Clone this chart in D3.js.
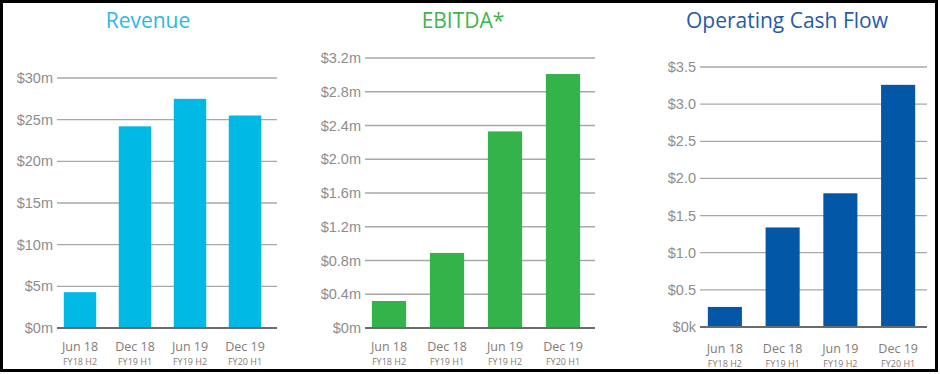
<!DOCTYPE html>
<html>
<head>
<meta charset="utf-8">
<script src="https://cdn.jsdelivr.net/npm/d3@7"></script>
<style>
  html, body { margin: 0; padding: 0; background: #fff; }
  svg { display: block; }
</style>
</head>
<body>
<svg id="chart" width="940" height="374"></svg>
<script>
// data
const categories = ["Jun 18", "Dec 18", "Jun 19", "Dec 19"];
const subLabels = ["FY18 H2", "FY19 H1", "FY19 H2", "FY20 H1"];

const revenue = [4.3, 24.2, 27.5, 25.5];          // $m
const ebitda = [0.32, 0.89, 2.33, 3.01];          // $m
const cashFlow = [0.27, 1.34, 1.80, 3.26];        // $m

const revenueTicks = [0, 5, 10, 15, 20, 25, 30];
const ebitdaTicks = [0, 0.4, 0.8, 1.2, 1.6, 2.0, 2.4, 2.8, 3.2];
const cashTicks = [0, 0.5, 1.0, 1.5, 2.0, 2.5, 3.0, 3.5];

const svg = d3.select("#chart");

// panel layout
const panels = [
  {
    title: "Revenue", titleColor: "#2bb8e6", barColor: "#00b9e5",
    values: revenue, ticks: revenueTicks, max: 30,
    fmt: d => "$" + d + "m",
    titleX: 148, gridX0: 57, gridX1: 277, bandX0: 52.5, bandX1: 272.5,
    yTop: 78, yZero: 328, labelY: 351
  },
  {
    title: "EBITDA*", titleColor: "#3db54b", barColor: "#33b34a",
    values: ebitda, ticks: ebitdaTicks, max: 3.2,
    fmt: d => d === 0 ? "$0m" : "$" + d.toFixed(1) + "m",
    titleX: 463, gridX0: 365, gridX1: 595, bandX0: 360, bandX1: 592,
    yTop: 58, yZero: 328, labelY: 351
  },
  {
    title: "Operating Cash Flow", titleColor: "#1f5ca8", barColor: "#0257a7",
    values: cashFlow, ticks: cashTicks, max: 3.5,
    fmt: d => d === 0 ? "$0k" : "$" + d.toFixed(1),
    titleX: 787, gridX0: 700, gridX1: 927, bandX0: 696, bandX1: 927,
    yTop: 67, yZero: 327, labelY: 353
  }
];

panels.forEach(p => {
  const g = svg.append("g");

  const y = d3.scaleLinear().domain([0, p.max]).range([p.yZero, p.yTop]);
  const x = d3.scaleBand()
    .domain(categories)
    .range([p.bandX0, p.bandX1])
    .paddingInner(0.41)
    .paddingOuter(0.205);

  // title
  g.append("text")
    .attr("x", p.titleX)
    .attr("y", 28)
    .attr("text-anchor", "middle")
    .attr("font-family", "Open Sans, sans-serif")
    .attr("font-size", "21px")
    .attr("fill", p.titleColor)
    .text(p.title);

  // gridlines
  g.selectAll(".grid")
    .data(p.ticks.filter(t => t > 0))
    .join("line")
    .attr("x1", p.gridX0)
    .attr("x2", p.gridX1)
    .attr("y1", d => y(d))
    .attr("y2", d => y(d))
    .attr("stroke", "#a8a8a8")
    .attr("stroke-width", 1.3);

  // tick labels
  g.selectAll(".tick-label")
    .data(p.ticks)
    .join("text")
    .attr("x", p.gridX0 - 4)
    .attr("y", d => y(d) + 5)
    .attr("text-anchor", "end")
    .attr("font-family", "Liberation Sans, Arial, sans-serif")
    .attr("font-size", "14.5px")
    .attr("fill", "#8d8d8d")
    .text(p.fmt);

  // bars
  g.selectAll(".bar")
    .data(p.values)
    .join("rect")
    .attr("x", (d, i) => x(categories[i]))
    .attr("y", d => y(d))
    .attr("width", x.bandwidth())
    .attr("height", d => y(0) - y(d))
    .attr("fill", p.barColor);

  // zero line
  g.append("line")
    .attr("x1", p.gridX0)
    .attr("x2", p.gridX1)
    .attr("y1", y(0))
    .attr("y2", y(0))
    .attr("stroke", "#6b6b6b")
    .attr("stroke-width", 2);

  // category labels
  categories.forEach((c, i) => {
    const cx = x(c) + x.bandwidth() / 2;
    g.append("text")
      .attr("x", cx)
      .attr("y", p.labelY)
      .attr("text-anchor", "middle")
      .attr("font-family", "Open Sans, sans-serif")
      .attr("font-size", "12.5px")
      .attr("fill", "#857a76")
      .text(c);
    g.append("text")
      .attr("x", cx)
      .attr("y", p.labelY + 14)
      .attr("text-anchor", "middle")
      .attr("font-family", "Open Sans, sans-serif")
      .attr("font-size", "9px")
      .attr("fill", "#857a76")
      .text(subLabels[i]);
  });
});

// outer frame
svg.append("rect")
  .attr("x", 1.5)
  .attr("y", 1.5)
  .attr("width", 935)
  .attr("height", 369)
  .attr("fill", "none")
  .attr("stroke", "#000")
  .attr("stroke-width", 3);
</script>
</body>
</html>
